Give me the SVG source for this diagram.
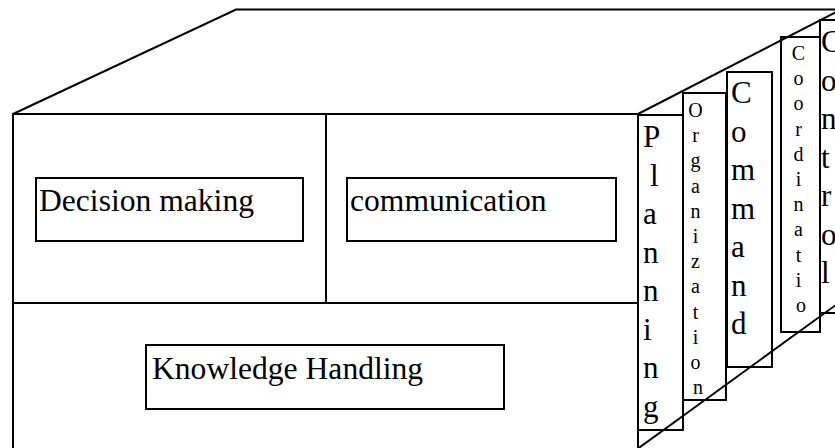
<svg xmlns="http://www.w3.org/2000/svg" width="835" height="448" viewBox="0 0 835 448">
  <style>
    .edge { fill: none; stroke: #000; stroke-width: 2; }
    .box { fill: none; stroke: #000; stroke-width: 2; }
    .label { font-family: "Liberation Serif", "Times New Roman", serif; font-size: 31.6px; fill: #000; }
    .big { font-family: "Liberation Serif", "Times New Roman", serif; font-size: 31px; fill: #000; }
    .small { font-family: "Liberation Serif", "Times New Roman", serif; font-size: 20px; fill: #000; text-anchor: middle; }
  </style>
  <rect width="835" height="448" fill="#fff"/>

  <!-- cube outline -->
  <g id="connectors">
    <!-- top face -->
    <polyline class="edge" points="13,114 236,9.5 840,9.5"/>
    <!-- front face -->
    <rect class="edge" x="13" y="114" width="625" height="345"/>
    <line class="edge" x1="326" y1="114" x2="326" y2="303"/>
    <line class="edge" x1="13" y1="303" x2="638" y2="303"/>
    <!-- right face -->
    <line class="edge" x1="638" y1="114" x2="840" y2="10"/>
    <line class="edge" x1="636" y1="450" x2="840" y2="302"/>
  </g>

  <g id="decision-making">
    <rect class="box" x="36" y="178" width="267" height="63"/>
    <text class="label" x="39" y="211">Decision making</text>
  </g>

  <g id="communication">
    <rect class="box" x="347" y="178" width="269" height="63"/>
    <text class="label" x="350" y="211">communication</text>
  </g>

  <g id="knowledge-handling">
    <rect class="box" x="146" y="345" width="358" height="64"/>
    <text class="label" x="152" y="379">Knowledge Handling</text>
  </g>

  <g id="planning">
    <rect class="box" x="638" y="115" width="45" height="315"/>
    <text class="big">
      <tspan x="643" y="147">P</tspan>
      <tspan x="650" y="185.5">l</tspan>
      <tspan x="643" y="224">a</tspan>
      <tspan x="643" y="262.5">n</tspan>
      <tspan x="643" y="301">n</tspan>
      <tspan x="643" y="339.5">i</tspan>
      <tspan x="643" y="378">n</tspan>
      <tspan x="643" y="416.5">g</tspan>
    </text>
  </g>

  <g id="organization">
    <rect class="box" x="683" y="93" width="43" height="307"/>
    <text class="small">
      <tspan x="698" y="117">O</tspan>
      <tspan x="698" y="142.2">r</tspan>
      <tspan x="698" y="167.4">g</tspan>
      <tspan x="698" y="192.6">a</tspan>
      <tspan x="698" y="217.8">n</tspan>
      <tspan x="698" y="243">i</tspan>
      <tspan x="698" y="268.2">z</tspan>
      <tspan x="698" y="293.4">a</tspan>
      <tspan x="698" y="318.6">t</tspan>
      <tspan x="698" y="343.8">i</tspan>
      <tspan x="698" y="369">o</tspan>
      <tspan x="698" y="394.2">n</tspan>
    </text>
  </g>

  <g id="command">
    <rect class="box" x="727" y="72" width="45" height="295"/>
    <text class="big">
      <tspan x="731" y="103">C</tspan>
      <tspan x="731" y="141.5">o</tspan>
      <tspan x="731" y="180">m</tspan>
      <tspan x="731" y="218.5">m</tspan>
      <tspan x="731" y="257">a</tspan>
      <tspan x="731" y="295.5">n</tspan>
      <tspan x="731" y="334">d</tspan>
    </text>
  </g>

  <g id="coordination">
    <rect class="box" x="781" y="37" width="39" height="295"/>
    <text class="small">
      <tspan x="801" y="60">C</tspan>
      <tspan x="801" y="85.2">o</tspan>
      <tspan x="801" y="110.4">o</tspan>
      <tspan x="801" y="135.6">r</tspan>
      <tspan x="801" y="160.8">d</tspan>
      <tspan x="801" y="186">i</tspan>
      <tspan x="801" y="211.2">n</tspan>
      <tspan x="801" y="236.4">a</tspan>
      <tspan x="801" y="261.6">t</tspan>
      <tspan x="801" y="286.8">i</tspan>
      <tspan x="801" y="312">o</tspan>
    </text>
  </g>

  <g id="control">
    <rect class="box" x="820" y="20" width="30" height="293"/>
    <text class="big">
      <tspan x="821" y="52">C</tspan>
      <tspan x="821" y="90.5">o</tspan>
      <tspan x="821" y="129">n</tspan>
      <tspan x="821" y="167.5">t</tspan>
      <tspan x="821" y="206">r</tspan>
      <tspan x="821" y="244.5">o</tspan>
      <tspan x="821" y="283">l</tspan>
    </text>
  </g>
</svg>
